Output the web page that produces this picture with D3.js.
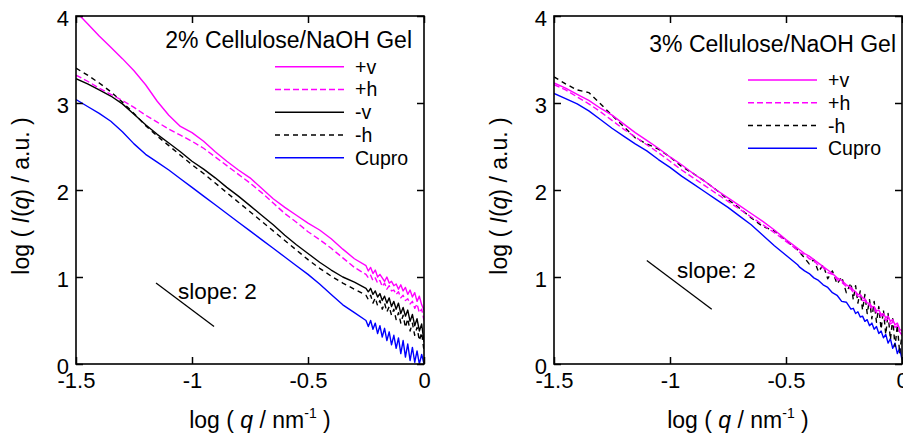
<!DOCTYPE html>
<html><head><meta charset="utf-8">
<script src="https://cdn.jsdelivr.net/npm/d3@7"></script>
<style>
body{margin:0;background:#fff}
svg{display:block}
text{font-family:Arial,"Liberation Sans",Helvetica,sans-serif;fill:#000}
</style>
</head><body>
<svg id="chart" width="903" height="435"></svg>
<script>
// ---------- data ----------
const xTicks = [-1.5, -1, -0.5, 0];
const xTickLabels = ["-1.5", "-1", "-0.5", "0"];
const yTicks = [0, 1, 2, 3, 4];
const yTickLabels = ["0", "1", "2", "3", "4"];

const titles = ["2% Cellulose/NaOH Gel", "3% Cellulose/NaOH Gel"];
const legendLeft = ["+v", "+h", "-v", "-h", "Cupro"];
const legendRight = ["+v", "+h", "-h", "Cupro"];
const slopeLabel = "slope: 2";

// log q grid for 2% gel
const qLeft = [-1.50,-1.45,-1.40,-1.35,-1.30,-1.25,-1.20,-1.15,-1.10,-1.05,-1.00,-0.95,-0.90,-0.85,-0.80,-0.75,-0.70,-0.65,-0.60,-0.55,-0.50,-0.45,-0.40,-0.35,-0.30,
  -0.25,-0.24,-0.23,-0.22,-0.21,-0.20,-0.19,-0.18,-0.17,-0.16,-0.15,-0.14,-0.13,-0.12,-0.11,-0.10,-0.09,-0.08,-0.07,-0.06,-0.05,-0.04,-0.03,-0.02,-0.01,0.00];
const gel2PlusV = [4.05,3.91,3.77,3.64,3.51,3.37,3.21,3.02,2.86,2.73,2.66,2.56,2.44,2.33,2.23,2.14,2.02,1.90,1.80,1.71,1.62,1.54,1.44,1.32,1.21,
  1.13,1.07,1.11,1.04,1.08,1.00,1.03,0.99,0.95,1.00,0.93,0.95,0.90,0.92,0.86,0.91,0.84,0.88,0.80,0.85,0.77,0.82,0.72,0.78,0.68,0.62];
const gel2PlusH = [3.32,3.25,3.17,3.10,3.03,2.95,2.86,2.78,2.70,2.63,2.56,2.48,2.38,2.28,2.18,2.08,1.97,1.85,1.73,1.63,1.52,1.43,1.33,1.22,1.11,
  1.03,0.99,1.02,0.96,0.99,0.93,0.96,0.89,0.93,0.86,0.90,0.84,0.85,0.80,0.83,0.76,0.79,0.73,0.75,0.69,0.72,0.64,0.69,0.59,0.63,0.50];
const gel2MinusV = [3.28,3.22,3.15,3.08,2.99,2.87,2.75,2.64,2.54,2.44,2.33,2.24,2.14,2.03,1.93,1.82,1.71,1.60,1.48,1.37,1.27,1.17,1.08,1.00,0.94,
  0.87,0.83,0.87,0.80,0.84,0.77,0.81,0.73,0.78,0.70,0.76,0.66,0.72,0.63,0.70,0.58,0.65,0.55,0.62,0.49,0.57,0.44,0.52,0.38,0.46,0.25];
const gel2MinusH = [3.40,3.32,3.23,3.13,3.01,2.88,2.74,2.62,2.51,2.40,2.29,2.19,2.08,1.97,1.86,1.75,1.64,1.53,1.42,1.31,1.20,1.10,1.01,0.93,0.86,
  0.79,0.74,0.79,0.70,0.76,0.67,0.73,0.63,0.70,0.60,0.66,0.56,0.63,0.51,0.59,0.47,0.56,0.42,0.52,0.38,0.47,0.33,0.42,0.27,0.36,0.15];
const gel2Cupro = [3.04,2.96,2.88,2.79,2.67,2.53,2.41,2.32,2.23,2.13,2.03,1.93,1.83,1.73,1.63,1.53,1.43,1.33,1.23,1.13,1.03,0.92,0.80,0.68,0.59,
  0.50,0.43,0.50,0.40,0.47,0.35,0.44,0.31,0.41,0.27,0.37,0.22,0.33,0.18,0.30,0.12,0.27,0.08,0.23,0.04,0.19,0.02,0.15,0.00,0.11,0.00];

// log q grid for 3% gel
const qRight = [-1.50,-1.45,-1.40,-1.35,-1.30,-1.25,-1.20,-1.15,-1.10,-1.05,-1.00,-0.95,-0.90,-0.85,-0.80,-0.75,-0.70,-0.65,-0.60,-0.55,-0.50,-0.45,
  -0.44,-0.42,-0.40,-0.38,-0.36,-0.34,-0.32,-0.30,-0.28,-0.26,-0.24,-0.22,
  -0.21,-0.20,-0.19,-0.18,-0.17,-0.16,-0.15,-0.14,-0.13,-0.12,-0.11,-0.10,-0.09,-0.08,-0.07,-0.06,-0.05,-0.04,-0.03,-0.02,-0.01,0.00];
const gel3PlusV = [3.23,3.17,3.10,3.03,2.94,2.86,2.76,2.66,2.57,2.48,2.38,2.29,2.19,2.10,2.00,1.91,1.82,1.73,1.64,1.54,1.43,1.33,
  1.31,1.27,1.24,1.20,1.16,1.12,1.08,1.04,0.99,0.96,0.91,0.88,
  0.85,0.83,0.80,0.80,0.76,0.75,0.70,0.70,0.66,0.66,0.61,0.62,0.57,0.58,0.53,0.55,0.49,0.51,0.45,0.47,0.40,0.38];
const gel3PlusH = [3.21,3.15,3.07,2.99,2.90,2.80,2.70,2.61,2.52,2.43,2.33,2.23,2.14,2.05,1.96,1.87,1.78,1.69,1.60,1.51,1.41,1.31,
  1.28,1.26,1.21,1.19,1.13,1.11,1.05,1.03,0.97,0.94,0.89,0.86,
  0.82,0.81,0.78,0.77,0.73,0.73,0.68,0.68,0.63,0.64,0.59,0.60,0.55,0.56,0.50,0.52,0.46,0.48,0.42,0.44,0.37,0.33];
const gel3MinusH = [3.30,3.22,3.15,3.12,2.99,2.86,2.73,2.60,2.53,2.47,2.38,2.27,2.19,2.10,2.00,1.89,1.79,1.68,1.58,1.53,1.42,1.31,
  1.28,1.22,1.15,1.20,1.06,1.14,0.98,1.07,0.92,1.00,0.82,0.93,
  0.74,0.90,0.70,0.84,0.62,0.80,0.58,0.74,0.52,0.72,0.48,0.66,0.40,0.62,0.34,0.58,0.28,0.52,0.20,0.45,0.12,0.35];
const gel3Cupro = [3.11,3.05,2.99,2.91,2.81,2.71,2.62,2.53,2.45,2.35,2.26,2.16,2.07,1.98,1.89,1.80,1.70,1.60,1.48,1.36,1.25,1.14,
  1.11,1.07,1.04,0.99,0.96,0.91,0.88,0.82,0.79,0.72,0.71,0.63,
  0.64,0.58,0.60,0.54,0.55,0.49,0.51,0.44,0.47,0.40,0.43,0.35,0.38,0.30,0.34,0.24,0.29,0.18,0.24,0.12,0.18,0.05];

// slope-2 guide lines (data coordinates)
const slopeLeftX = [-1.155, -0.905], slopeLeftY = [0.93, 0.43];
const slopeRightX = [-1.10, -0.82], slopeRightY = [1.19, 0.63];
const slopeTextLeft = [-1.06, 0.75], slopeTextRight = [-0.97, 0.99];

// ---------- styles ----------
const MAG = "#ff00ff", BLK = "#000000", BLU = "#0000ff";
const styleOf = {
  "+v": {color: MAG, dash: null},
  "+h": {color: MAG, dash: "6,3"},
  "-v": {color: BLK, dash: null},
  "-h": {color: BLK, dash: "5,4"},
  "Cupro": {color: BLU, dash: null}
};

const svg = d3.select("#chart");
const W = 348, H = 348, TOP = 16;

const panels = [
  {
    x0: 76, title: titles[0], titleX: 336, titleY: 32,
    legend: legendLeft, legX1: 199, legX2: 268, legTX: 279, legY0: 50.7, legDY: 22.75,
    drawOrder: [["Cupro", gel2Cupro], ["-h", gel2MinusH], ["-v", gel2MinusV], ["+h", gel2PlusH], ["+v", gel2PlusV]],
    q: qLeft,
    slopeX: slopeLeftX, slopeY: slopeLeftY, slopeText: slopeTextLeft
  },
  {
    x0: 554, title: titles[1], titleX: 342, titleY: 36,
    legend: legendRight, legX1: 194, legX2: 263, legTX: 274, legY0: 64, legDY: 22.75,
    drawOrder: [["Cupro", gel3Cupro], ["-h", gel3MinusH], ["+h", gel3PlusH], ["+v", gel3PlusV]],
    q: qRight,
    slopeX: slopeRightX, slopeY: slopeRightY, slopeText: slopeTextRight
  }
];

panels.forEach((p, pi) => {
  const x = d3.scaleLinear().domain([-1.5, 0]).range([0, W]);
  const y = d3.scaleLinear().domain([0, 4]).range([H, 0]);
  const g = svg.append("g").attr("transform", `translate(${p.x0},${TOP})`);

  const clipId = "clip" + pi;
  g.append("clipPath").attr("id", clipId).append("rect")
    .attr("x", 0).attr("y", 0).attr("width", W).attr("height", H);

  const line = d3.line().x(d => x(d[0])).y(d => y(d[1]));
  const dg = g.append("g").attr("clip-path", `url(#${clipId})`);
  p.drawOrder.forEach(([name, vals]) => {
    const st = styleOf[name];
    dg.append("path")
      .datum(p.q.map((qv, i) => [qv, vals[i]]))
      .attr("d", line)
      .attr("fill", "none")
      .attr("stroke", st.color)
      .attr("stroke-width", 1.4)
      .attr("stroke-linejoin", "round")
      .attr("stroke-dasharray", st.dash);
  });

  // axes (inward ticks)
  const bottom = g.append("g").attr("transform", `translate(0,${H})`)
    .call(d3.axisBottom(x).tickValues(xTicks).tickSize(-7).tickPadding(8)
      .tickFormat((d, i) => xTickLabels[i]));
  const top = g.append("g")
    .call(d3.axisTop(x).tickValues(xTicks).tickSize(-7).tickFormat(""));
  const left = g.append("g")
    .call(d3.axisLeft(y).tickValues(yTicks).tickSize(-7).tickPadding(7)
      .tickFormat((d, i) => yTickLabels[i]));
  const right = g.append("g").attr("transform", `translate(${W},0)`)
    .call(d3.axisRight(y).tickValues(yTicks).tickSize(-7).tickFormat(""));
  [bottom, top, left, right].forEach(a => {
    a.select(".domain").remove();
    a.selectAll(".tick line").attr("stroke", "#000").attr("stroke-width", 1.5);
    a.selectAll("text").attr("font-size", 22).attr("font-family", "Arial, 'Liberation Sans', sans-serif").attr("fill", "#000");
  });
  left.selectAll("text").attr("dy", "0.42em");

  g.append("rect").attr("x", 0).attr("y", 0).attr("width", W).attr("height", H)
    .attr("fill", "none").attr("stroke", "#000").attr("stroke-width", 1.6);

  // title
  g.append("text").attr("x", p.titleX).attr("y", p.titleY)
    .attr("text-anchor", "end").attr("font-size", 23).text(p.title);

  // legend
  p.legend.forEach((name, i) => {
    const st = styleOf[name];
    const ly = p.legY0 + i * p.legDY;
    g.append("line").attr("x1", p.legX1).attr("x2", p.legX2).attr("y1", ly).attr("y2", ly)
      .attr("stroke", st.color).attr("stroke-width", 1.4).attr("stroke-dasharray", st.dash);
    g.append("text").attr("x", p.legTX).attr("y", ly + 7).attr("font-size", 19.5).text(name);
  });

  // slope guide
  g.append("line")
    .attr("x1", x(p.slopeX[0])).attr("y1", y(p.slopeY[0]))
    .attr("x2", x(p.slopeX[1])).attr("y2", y(p.slopeY[1]))
    .attr("stroke", "#000").attr("stroke-width", 1.3);
  g.append("text").attr("x", x(p.slopeText[0])).attr("y", y(p.slopeText[1]))
    .attr("font-size", 22.5).text(slopeLabel);

  // x-axis title
  const xt = g.append("text").attr("x", W / 2 + 10).attr("y", H + 64)
    .attr("text-anchor", "middle").attr("font-size", 23);
  xt.append("tspan").text("log (  ");
  xt.append("tspan").attr("font-style", "italic").text("q");
  xt.append("tspan").text(" / nm");
  xt.append("tspan").attr("font-size", 14).attr("dy", -10).text("-1");
  xt.append("tspan").attr("dy", 10).text(" )");

  // y-axis title
  const yt = g.append("text").attr("transform", `translate(-47,${H / 2 + 6}) rotate(-90)`)
    .attr("text-anchor", "middle").attr("font-size", 23);
  yt.append("tspan").text("log (  ");
  yt.append("tspan").attr("font-style", "italic").text("I");
  yt.append("tspan").text("(");
  yt.append("tspan").attr("font-style", "italic").text("q");
  yt.append("tspan").text(") / a.u. )");
});
</script>
</body></html>
